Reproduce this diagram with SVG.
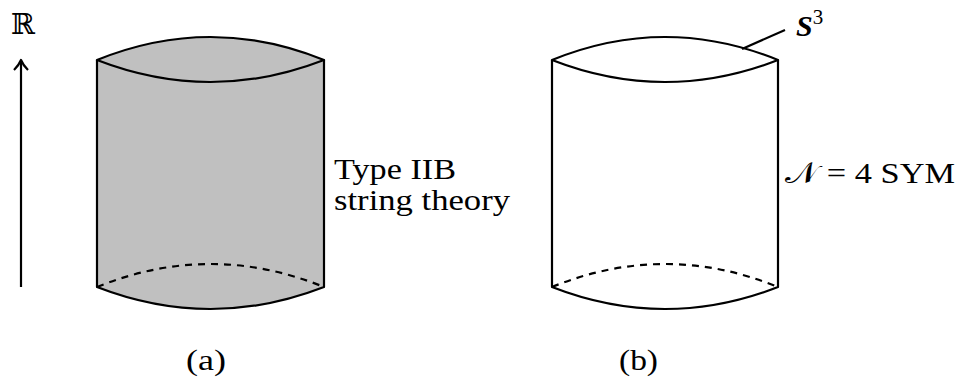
<svg xmlns="http://www.w3.org/2000/svg" width="959" height="382" viewBox="0 0 959 382">
<style>
.ln{fill:none;stroke:#000;stroke-width:2.2;stroke-linejoin:round}
.ds{fill:none;stroke:#000;stroke-width:2.2;stroke-dasharray:7,6}
.t{font-family:"Liberation Serif","DejaVu Serif",serif;font-size:30px;fill:#000}
</style>
<rect width="959" height="382" fill="#fff"/>
<g id="axis">
<line class="ln" x1="21" y1="287" x2="21" y2="61"/>
<path class="ln" d="M14,70 Q19,65 21,60 Q23,65 28,70"/>
<text x="11" y="34" style="font-family:'DejaVu Serif',serif;font-size:29px">ℝ</text>
</g>
<g id="cylinder-a">
<path d="M97,60 Q210.5,14 324,60 L324,287 Q210.5,331 97,287 Z" fill="#c0c0c0"/>
<path class="ln" d="M97,60 Q210.5,14 324,60 Q210.5,104 97,60 Z"/>
<path class="ln" d="M97,60 L97,287 Q210.5,331 324,287 L324,60"/>
<path class="ds" d="M97,287 Q210.5,241 324,287"/>
<text class="t" x="334" y="179" textLength="122" lengthAdjust="spacingAndGlyphs">Type IIB</text>
<text class="t" x="334" y="210" textLength="176" lengthAdjust="spacingAndGlyphs">string theory</text>
<text class="t" x="186" y="370" textLength="40" lengthAdjust="spacingAndGlyphs">(a)</text>
</g>
<g id="cylinder-b">
<path class="ln" d="M552,60 Q665,14 778,60 Q665,104 552,60 Z"/>
<path class="ln" d="M552,60 L552,287 Q665,331 778,287 L778,60"/>
<path class="ds" d="M552,287 Q665,241 778,287"/>
<text class="t" x="785" y="183" textLength="170" lengthAdjust="spacingAndGlyphs">𝒩 = 4 SYM</text>
<text class="t" x="619" y="370" textLength="39" lengthAdjust="spacingAndGlyphs">(b)</text>
</g>
<g id="connectors">
<line class="ln" x1="742" y1="49" x2="785" y2="30"/>
<text class="t" x="796" y="36" font-weight="bold" font-style="italic" font-size="32">S<tspan font-weight="normal" font-style="normal" font-size="21" dy="-12">3</tspan></text>
</g>
</svg>
